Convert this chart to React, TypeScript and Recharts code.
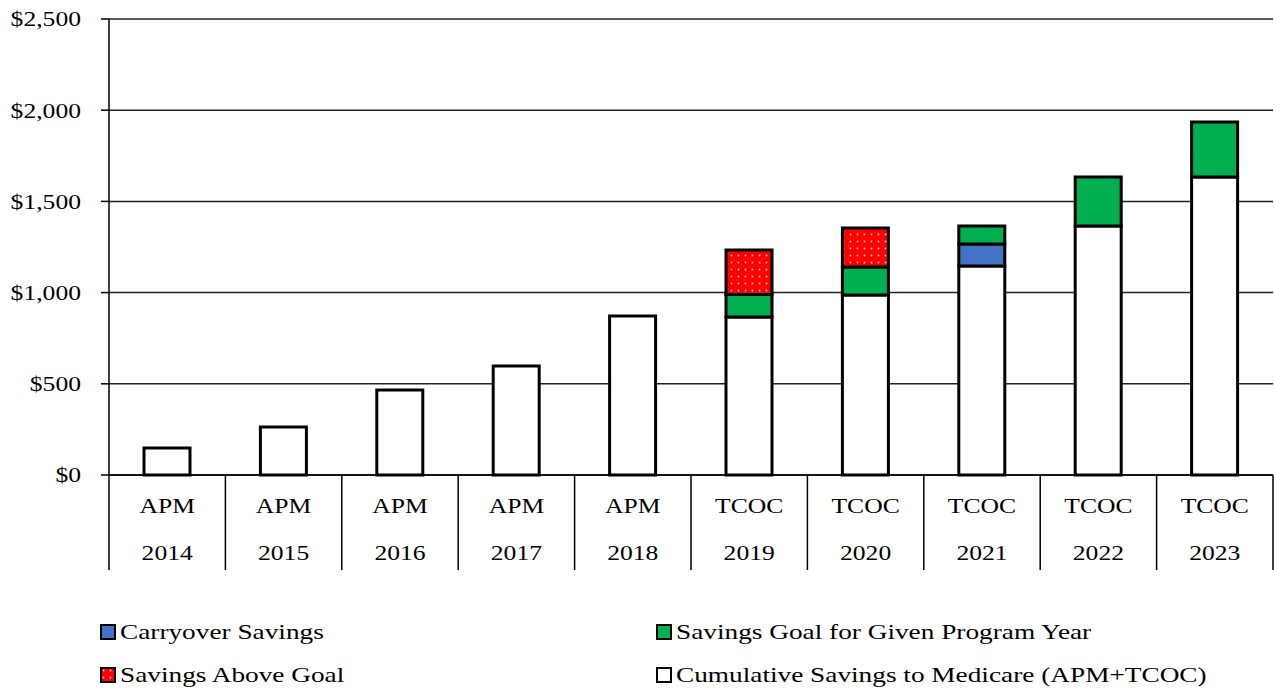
import React from 'react';
import { BarChart, Bar, XAxis, YAxis, CartesianGrid } from 'recharts';

const programs = ['APM', 'APM', 'APM', 'APM', 'APM', 'TCOC', 'TCOC', 'TCOC', 'TCOC', 'TCOC'];
const years = ['2014', '2015', '2016', '2017', '2018', '2019', '2020', '2021', '2022', '2023'];
const cumulative = [148, 263, 466, 598, 872, 866, 987, 1146, 1365, 1634];
const carryover = [0, 0, 0, 0, 0, 0, 0, 120, 0, 0];
const goal = [0, 0, 0, 0, 0, 124, 153, 99, 269, 301];
const aboveGoal = [0, 0, 0, 0, 0, 244, 214, 0, 0, 0];
const yTicks = [0, 500, 1000, 1500, 2000, 2500];

const data = years.map((year, i) => ({
  year,
  program: programs[i],
  cumulative: cumulative[i],
  carryover: carryover[i],
  goal: goal[i],
  aboveGoal: aboveGoal[i],
}));

const FONT = '"Liberation Serif", "Times New Roman", serif';
const STRETCH = 1.22; // the reference text is drawn a bit wide
const LEGEND_STRETCH = 1.24;
const BAND = (1273 - 109) / years.length;
const AXIS_BOTTOM = 570;

const XTick = (props: any) => {
  const { x, y, index, payload } = props;
  const row = data[index] || data.find((d) => d.year === payload.value);
  const left = x - BAND / 2;
  const right = x + BAND / 2;
  return (
    <g>
      <line x1={left} y1={y} x2={left} y2={AXIS_BOTTOM} stroke="#000" strokeWidth={1.5} />
      {index === years.length - 1 && (
        <line x1={right} y1={y} x2={right} y2={AXIS_BOTTOM} stroke="#000" strokeWidth={1.5} />
      )}
      <g transform={`translate(${x},${y}) scale(${STRETCH},1)`} fontSize={21} fontFamily={FONT} fill="#000">
        <text x={0} y={38} textAnchor="middle">{row ? row.program : ''}</text>
        <text x={0} y={85} textAnchor="middle">{payload.value}</text>
      </g>
    </g>
  );
};

const YTick = (props: any) => {
  const { x, y, payload } = props;
  return (
    <g transform={`translate(${x},${y}) scale(${STRETCH},1)`}>
      <text x={0} y={0} dy="0.35em" textAnchor="end" fontSize={21} fontFamily={FONT} fill="#000">
        {`$${Number(payload.value).toLocaleString('en-US')}`}
      </text>
    </g>
  );
};

const legendItems = [
  { label: 'Carryover Savings', fill: '#4472C4', left: 100, top: 632 },
  { label: 'Savings Goal for Given Program Year', fill: '#00B050', left: 656, top: 632 },
  { label: 'Savings Above Goal', fill: 'url(#dots)', left: 100, top: 675 },
  { label: 'Cumulative Savings to Medicare (APM+TCOC)', fill: '#fff', left: 656, top: 675 },
];

export default function App() {
  return (
    <div style={{ position: 'absolute', left: 0, top: 0, width: 1274, height: 690, background: '#fff', fontFamily: FONT }}>
      <svg width={0} height={0} style={{ position: 'absolute' }}>
        <defs>
          <pattern id="dots" width={7} height={7} patternUnits="userSpaceOnUse">
            <rect width={7} height={7} fill="#FF0000" />
            <circle cx={3.5} cy={3.5} r={0.9} fill="#FFC8C8" />
          </pattern>
        </defs>
      </svg>
      <BarChart
        width={1274}
        height={580}
        data={data}
        margin={{ top: 19, right: 1, left: 0, bottom: 9 }}
        barSize={46}
      >
        <CartesianGrid vertical={false} stroke="#222" strokeWidth={1.5} />
        <XAxis
          dataKey="year"
          height={96}
          tickLine={false}
          tickSize={0}
          tickMargin={0}
          axisLine={{ stroke: '#000', strokeWidth: 1.5 }}
          tick={<XTick />}
          interval={0}
        />
        <YAxis
          width={109}
          domain={[0, 2500]}
          ticks={yTicks}
          tickSize={8}
          tickMargin={20}
          tickLine={{ stroke: '#000', strokeWidth: 1.5 }}
          axisLine={{ stroke: '#000', strokeWidth: 1.5 }}
          tick={<YTick />}
        />
        <Bar dataKey="cumulative" stackId="a" fill="#fff" stroke="#000" strokeWidth={3} isAnimationActive={false} />
        <Bar dataKey="carryover" stackId="a" fill="#4472C4" stroke="#000" strokeWidth={3} isAnimationActive={false} />
        <Bar dataKey="goal" stackId="a" fill="#00B050" stroke="#000" strokeWidth={3} isAnimationActive={false} />
        <Bar dataKey="aboveGoal" stackId="a" fill="url(#dots)" stroke="#000" strokeWidth={3} isAnimationActive={false} />
      </BarChart>
      {legendItems.map((item) => (
        <div
          key={item.label}
          style={{
            position: 'absolute',
            left: item.left,
            top: item.top - 13,
            height: 26,
            display: 'flex',
            alignItems: 'center',
            fontSize: 22,
            color: '#000',
            whiteSpace: 'nowrap',
          }}
        >
          <svg width={18} height={16} style={{ marginRight: 2 }}>
            <rect x={1} y={1} width={14} height={14} fill={item.fill} stroke="#000" strokeWidth={2} />
          </svg>
          <span style={{ display: 'inline-block', transform: `scaleX(${LEGEND_STRETCH})`, transformOrigin: 'left center' }}>
            {item.label}
          </span>
        </div>
      ))}
    </div>
  );
}
